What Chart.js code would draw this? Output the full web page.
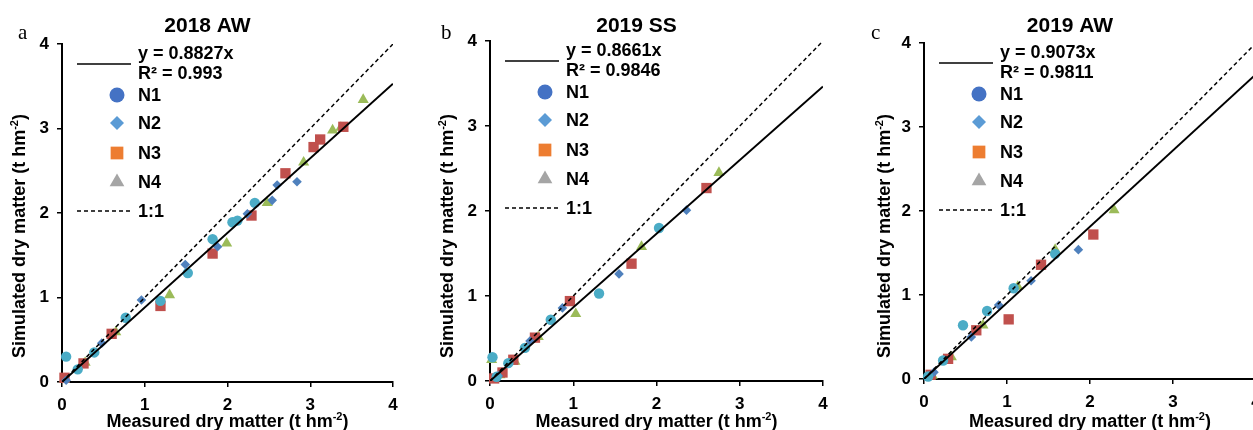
<!DOCTYPE html>
<html>
<head>
<meta charset="utf-8">
<script src="https://cdn.jsdelivr.net/npm/chart.js@4/dist/chart.umd.min.js"></script>
<style>
  body { margin: 0; width: 1253px; height: 430px; overflow: hidden; background: #fff; position: relative; }
  canvas { position: absolute; left: 0; top: 0; }
</style>
</head>
<body>
<canvas id="pa" width="1270" height="430"></canvas>
<canvas id="pb" width="1270" height="430"></canvas>
<canvas id="pc" width="1270" height="430"></canvas>
<script>
var FONT = '"Liberation Sans", Arial, sans-serif';

// ---- data (measured, simulated) in t hm-2 ----
var panelTitles = ['2018 AW', '2019 SS', '2019 AW'];
var panelLetters = ['a', 'b', 'c'];
var fitSlopes = [0.8827, 0.8661, 0.9073];
var fitR2 = ['0.993', '0.9846', '0.9811'];
var axisTicks = [0, 1, 2, 3, 4];
var seriesNames = ['N1', 'N2', 'N3', 'N4'];

// 2018 AW
var aw18_N1 = [[0.05, 0.30], [0.19, 0.15], [0.39, 0.35], [0.77, 0.76], [1.19, 0.96], [1.52, 1.29], [1.82, 1.69], [2.06, 1.89], [2.12, 1.91], [2.33, 2.12]];
var aw18_N2 = [[0.05, 0.02], [0.48, 0.46], [0.96, 0.97], [1.49, 1.39], [1.88, 1.60], [2.24, 1.99], [2.54, 2.15], [2.60, 2.33], [2.84, 2.37]];
var aw18_N3 = [[0.03, 0.05], [0.26, 0.22], [0.60, 0.57], [1.19, 0.90], [1.82, 1.52], [2.29, 1.97], [2.70, 2.47], [3.04, 2.78], [3.12, 2.87], [3.40, 3.02]];
var aw18_N4 = [[0.03, 0.03], [0.28, 0.23], [0.65, 0.59], [1.30, 1.03], [1.99, 1.64], [2.48, 2.12], [2.92, 2.60], [3.27, 2.98], [3.37, 3.01], [3.64, 3.34]];

// 2019 SS
var ss19_N1 = [[0.03, 0.28], [0.08, 0.05], [0.22, 0.21], [0.42, 0.39], [0.73, 0.72], [1.31, 1.03], [2.03, 1.80]];
var ss19_N2 = [[0.10, 0.06], [0.48, 0.47], [0.87, 0.86], [1.55, 1.26], [2.36, 2.01]];
var ss19_N3 = [[0.05, 0.03], [0.15, 0.10], [0.28, 0.25], [0.54, 0.51], [0.96, 0.94], [1.70, 1.38], [2.60, 2.27]];
var ss19_N4 = [[0.02, 0.25], [0.12, 0.07], [0.30, 0.23], [0.58, 0.52], [1.03, 0.79], [1.82, 1.58], [2.75, 2.45]];

// 2019 AW
var aw19_N1 = [[0.05, 0.03], [0.23, 0.22], [0.47, 0.64], [0.76, 0.81], [1.08, 1.08], [1.58, 1.49]];
var aw19_N2 = [[0.12, 0.08], [0.57, 0.50], [0.90, 0.88], [1.29, 1.17], [1.86, 1.54]];
var aw19_N3 = [[0.08, 0.05], [0.29, 0.24], [0.63, 0.58], [1.02, 0.71], [1.41, 1.36], [2.04, 1.72]];
var aw19_N4 = [[0.10, 0.04], [0.33, 0.26], [0.71, 0.64], [1.13, 1.10], [1.58, 1.54], [2.29, 2.01]];

var panelSeries = [
  [aw18_N1, aw18_N2, aw18_N3, aw18_N4],
  [ss19_N1, ss19_N2, ss19_N3, ss19_N4],
  [aw19_N1, aw19_N2, aw19_N3, aw19_N4]
];

// ---- styles / layout ----
var markStyle = [
  { pointStyle: 'circle', radius: 5.2, color: '#4BACC6' },
  { pointStyle: 'rectRot', radius: 4.8, color: '#4F81BD' },
  { pointStyle: 'rect', radius: 7.3, color: '#C0504D' },
  { pointStyle: 'triangle', radius: 6.4, color: '#9BBB59' }
];
var legendStyle = [
  { pointStyle: 'circle', radius: 7.5, color: '#4472C4' },
  { pointStyle: 'rectRot', radius: 7, color: '#5B9BD5' },
  { pointStyle: 'rect', radius: 9, color: '#ED7D31' },
  { pointStyle: 'triangle', radius: 8.5, color: '#A5A5A5' }
];
var frames = [
  { left: 62, right: 393, top: 44, bottom: 382, letterX: 18, ytitleX: 19 },
  { left: 490, right: 823, top: 41, bottom: 381, letterX: 441, ytitleX: 447 },
  { left: 924, right: 1256, top: 43, bottom: 379, letterX: 871, ytitleX: 884 }
];
var CW = 1270, CH = 430, Y_W = 45, X_H = 30;

function supText(ctx, main, sup, tail, x, y, rot) {
  ctx.save();
  ctx.translate(x, y);
  ctx.rotate(rot);
  ctx.textAlign = 'left';
  ctx.textBaseline = 'alphabetic';
  var big = 'bold 18px ' + FONT, small = 'bold 11px ' + FONT;
  ctx.font = big;
  var w1 = ctx.measureText(main).width, w3 = ctx.measureText(tail).width;
  ctx.font = small;
  var w2 = ctx.measureText(sup).width;
  var sx = -(w1 + w2 + w3) / 2;
  ctx.font = big;
  ctx.fillText(main, sx, 0);
  ctx.fillText(tail, sx + w1 + w2, 0);
  ctx.font = small;
  ctx.fillText(sup, sx + w1, -7);
  ctx.restore();
}

var decoPlugin = {
  id: 'deco',
  afterDraw: function (chart, args, o) {
    var ctx = chart.ctx, ca = chart.chartArea, f = o.frame;
    var L = ca.left, T = ca.top, cx = (ca.left + ca.right) / 2;
    ctx.save();
    ctx.fillStyle = '#000';
    ctx.textBaseline = 'alphabetic';

    ctx.font = '21px "Liberation Serif", "Times New Roman", serif';
    ctx.textAlign = 'left';
    ctx.fillText(o.letter, f.letterX, 39);

    ctx.font = 'bold 21px ' + FONT;
    ctx.textAlign = 'center';
    ctx.fillText(o.title, cx - 20, 32);

    supText(ctx, 'Measured dry matter (t hm', '-2', ')', cx, 427, 0);
    supText(ctx, 'Simulated dry matter (t hm', '-2', ')', f.ytitleX + 6, 236, -Math.PI / 2);

    // legend
    ctx.strokeStyle = '#000';
    ctx.lineWidth = 1.6;
    ctx.beginPath(); ctx.moveTo(L + 15, T + 20); ctx.lineTo(L + 69, T + 20); ctx.stroke();
    ctx.font = 'bold 18px ' + FONT;
    ctx.textAlign = 'left';
    ctx.fillText('y = ' + o.slope + 'x', L + 76, T + 15);
    ctx.fillText('R\u00b2 = ' + o.r2, L + 76, T + 35);
    var rows = [51, 79, 109, 138];
    for (var i = 0; i < seriesNames.length; i++) {
      var s = legendStyle[i];
      ctx.fillStyle = s.color;
      Chart.helpers.drawPoint(ctx, { pointStyle: s.pointStyle, radius: s.radius, rotation: 0, borderWidth: 0 }, L + 55, T + rows[i]);
      ctx.fillStyle = '#000';
      ctx.fillText(seriesNames[i], L + 76, T + rows[i] + 6);
    }
    ctx.setLineDash([4, 3]);
    ctx.lineWidth = 1.6;
    ctx.beginPath(); ctx.moveTo(L + 15, T + 167); ctx.lineTo(L + 69, T + 167); ctx.stroke();
    ctx.setLineDash([]);
    ctx.fillText('1:1', L + 76, T + 173);
    ctx.restore();
  }
};

function makePanel(id, p) {
  var f = frames[p];
  var xEnds = [axisTicks[0], axisTicks[axisTicks.length - 1]];
  var datasets = [
    {
      data: xEnds.map(function (x) { return { x: x, y: fitSlopes[p] * x }; }),
      showLine: true, borderColor: '#000', borderWidth: 2, pointRadius: 0, fill: false
    },
    {
      data: xEnds.map(function (x) { return { x: x, y: x }; }),
      showLine: true, borderColor: '#000', borderWidth: 1.5, borderDash: [4, 3], pointRadius: 0, fill: false
    }
  ];
  panelSeries[p].forEach(function (ser, i) {
    var s = markStyle[i];
    datasets.push({
      label: seriesNames[i],
      data: ser.map(function (d) { return { x: d[0], y: d[1] }; }),
      pointStyle: s.pointStyle, pointRadius: s.radius,
      pointBackgroundColor: s.color, pointBorderWidth: 0, clip: false
    });
  });

  var tickFont = { family: FONT, size: 17, weight: 'bold' };
  var axisCommon = {
    type: 'linear', min: axisTicks[0], max: axisTicks[axisTicks.length - 1],
    ticks: { stepSize: 1, color: '#000', font: tickFont, padding: 8 },
    grid: { display: true, drawOnChartArea: false, drawTicks: true, tickLength: 5, color: '#000', lineWidth: 1.5 },
    border: { display: true, color: '#000', width: 2 }
  };

  new Chart(document.getElementById(id), {
    type: 'scatter',
    data: { datasets: datasets },
    options: {
      responsive: false,
      animation: false,
      events: [],
      layout: {
        autoPadding: false,
        padding: { left: f.left - Y_W, right: CW - f.right, top: f.top, bottom: CH - f.bottom - X_H }
      },
      scales: {
        x: Object.assign({}, axisCommon, { afterFit: function (s) { s.height = X_H; } }),
        y: Object.assign({}, axisCommon, { afterFit: function (s) { s.width = Y_W; } })
      },
      plugins: {
        legend: { display: false },
        tooltip: { enabled: false },
        deco: { frame: f, letter: panelLetters[p], title: panelTitles[p], slope: fitSlopes[p], r2: fitR2[p] }
      }
    },
    plugins: [decoPlugin]
  });
}

makePanel('pa', 0);
makePanel('pb', 1);
makePanel('pc', 2);
</script>
</body>
</html>
